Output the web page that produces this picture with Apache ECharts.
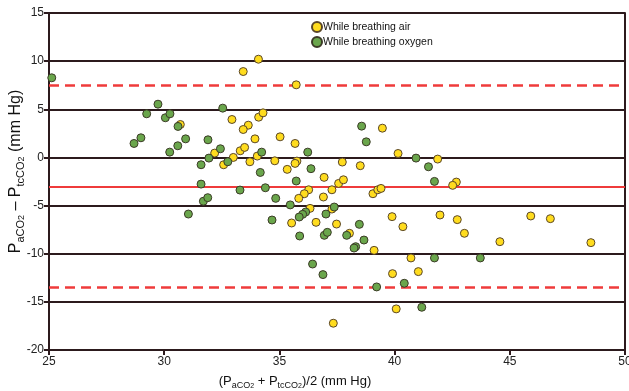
<!DOCTYPE html>
<html>
<head>
<meta charset="utf-8">
<script src="https://cdn.jsdelivr.net/npm/echarts@6/dist/echarts.min.js"></script>
<style>html,body{margin:0;padding:0;background:#fff}#c{width:629px;height:391px}</style>
</head>
<body>
<div id="c"></div>
<script>
// Mean (x) values and differences (y) for each group
const airMean = [34.09,33.43,35.73,30.70,32.94,34.10,34.29,33.65,33.43,33.94,35.03,35.68,39.47,40.15,32.19,32.58,33.00,33.30,33.49,34.04,33.72,34.80,35.76,35.68,35.34,37.73,38.51,36.94,36.27,36.08,35.84,36.91,37.28,37.57,37.78,39.06,39.27,39.41,37.28,36.33,39.89,35.53,36.59,37.48,38.04,39.11,39.91,40.07,37.34,41.87,42.68,42.52,41.97,42.72,45.91,46.76,40.36,43.03,44.57,48.52,40.71,41.03];
const airDiff = [10.2,8.92,7.54,3.42,3.94,4.18,4.63,3.35,2.90,1.93,2.14,1.45,3.04,0.41,0.45,-0.76,0.00,0.69,1.04,0.14,-0.45,-0.35,-0.38,-0.62,-1.24,-0.48,-0.86,-2.07,-3.36,-3.77,-4.25,-4.11,-3.36,-2.70,-2.32,-3.77,-3.36,-3.22,-5.36,-5.29,-6.15,-6.81,-6.74,-6.92,-7.88,-9.65,-12.07,-15.73,-17.22,-0.17,-2.56,-2.90,-5.98,-6.46,-6.08,-6.36,-7.19,-7.88,-8.75,-8.85,-10.44,-11.86];
const oxyMean = [25.12,29.73,29.24,30.05,30.25,30.60,30.93,30.59,30.24,28.69,28.99,31.90,32.54,32.44,31.94,31.60,32.76,31.60,33.29,31.70,31.89,31.05,38.57,38.77,34.23,36.23,36.37,34.17,35.73,34.39,34.84,35.47,37.38,37.02,34.68,36.14,36.01,35.86,38.47,35.88,36.95,37.08,37.92,38.67,38.31,38.24,36.44,36.89,39.22,40.93,41.47,41.73,41.73,43.72,40.42,41.18];
const oxyDiff = [8.27,5.53,4.53,4.12,4.53,3.22,1.93,1.21,0.55,1.45,2.04,1.83,5.12,0.90,-0.07,-0.76,-0.45,-2.77,-3.39,-4.55,-4.18,-5.88,3.25,1.62,0.55,0.55,-1.17,-1.56,-2.45,-3.15,-4.25,-4.93,-5.15,-5.88,-6.50,-5.67,-5.91,-6.19,-6.95,-8.16,-8.09,-7.78,-8.09,-8.58,-9.27,-9.41,-11.07,-12.17,-13.45,-0.07,-0.97,-2.49,-10.44,-10.44,-13.07,-15.56];
const seriesNames = ['While breathing air','While breathing oxygen'];
const meanDifference = -3;
const agreementLimits = [7.5, -13.5];
const xTicks = [25,30,35,40,45,50];
const yTicks = [-20,-15,-10,-5,0,5,10,15];

const pairs = (xs, ys) => xs.map((x, i) => [x, ys[i]]);
const font = 'Liberation Sans, Arial, sans-serif';
const dark = '#2c1a1d';
const richName = (big, small, tiny) => ({
  m: {fontSize: big, color: '#111', fontFamily: font, lineHeight: big + 4},
  s: {fontSize: small, color: '#111', fontFamily: font, verticalAlign: 'bottom', lineHeight: 8},
  ss: {fontSize: tiny, color: '#111', fontFamily: font, verticalAlign: 'bottom', lineHeight: 2}
});
const chart = echarts.init(document.getElementById('c'));
chart.setOption({
  animation: false,
  textStyle: {fontFamily: font},
  grid: {left: 49, right: 4, top: 13, bottom: 41, outerBoundsMode: 'none', containLabel: false},
  legend: {
    orient: 'vertical', left: 306, top: 16, itemGap: 3,
    itemWidth: 10, itemHeight: 10, icon: 'circle',
    textStyle: {fontSize: 10.5, color: '#111', fontFamily: font, padding: [0,0,0,-4]},
    data: seriesNames
  },
  xAxis: {
    type: 'value', min: xTicks[0], max: xTicks[xTicks.length-1], interval: 5,
    axisLine: {onZero: false, lineStyle: {color: dark, width: 2}},
    axisTick: {show: true, length: 5, lineStyle: {color: dark, width: 2}},
    axisLabel: {fontSize: 12, color: '#222', margin: 6},
    splitLine: {show: false},
    name: '{m|(P}{s|aCO}{ss|2}{m| + P}{s|tcCO}{ss|2}{m|)/2 (mm Hg)}',
    nameLocation: 'middle', nameGap: 23, nameMoveOverlap: false,
    nameTextStyle: {padding: [0, 84, 0, 0], rich: richName(13, 9, 7)}
  },
  yAxis: [{
    type: 'value', min: yTicks[0], max: yTicks[yTicks.length-1], interval: 5,
    axisLine: {show: true, onZero: false, lineStyle: {color: dark, width: 2}},
    axisTick: {show: true, length: 5, lineStyle: {color: dark, width: 2}},
    axisLabel: {fontSize: 12, color: '#222', margin: 5},
    splitLine: {show: true, lineStyle: {color: dark, width: 2}},
    name: '{m|P}{s|aCO}{ss|2}{m| – P}{s|tcCO}{ss|2}{m| (mm Hg)}',
    nameLocation: 'middle', nameGap: 23, nameRotate: 90, nameMoveOverlap: false,
    nameTextStyle: {padding: [0, 0, 0, 20], rich: richName(16, 11, 9)}
  }, {
    type: 'value', position: 'right', min: yTicks[0], max: yTicks[yTicks.length-1], interval: 5,
    axisLine: {show: true, onZero: false, lineStyle: {color: dark, width: 2}},
    axisTick: {show: false}, axisLabel: {show: false}, splitLine: {show: false}
  }],
  series: [{
    name: seriesNames[0], type: 'scatter', data: pairs(airMean, airDiff),
    symbol: 'circle', symbolSize: 8, z: 3,
    itemStyle: {color: '#ffdc1e', borderColor: '#5a4628', borderWidth: 1, opacity: 1},
    markLine: {
      silent: true, symbol: 'none', label: {show: false}, z: 2,
      data: [
        {yAxis: meanDifference, lineStyle: {color: '#ef3b3b', width: 2, type: 'solid'}},
        {yAxis: agreementLimits[0], lineStyle: {color: '#ef3b3b', width: 2.5, type: [10, 6]}},
        {yAxis: agreementLimits[1], lineStyle: {color: '#ef3b3b', width: 2.5, type: [10, 6]}}
      ]
    }
  }, {
    name: seriesNames[1], type: 'scatter', data: pairs(oxyMean, oxyDiff),
    symbol: 'circle', symbolSize: 8, z: 3,
    itemStyle: {color: '#6aa64c', borderColor: '#3b3a26', borderWidth: 1, opacity: 1}
  }]
});
</script>
</body>
</html>
